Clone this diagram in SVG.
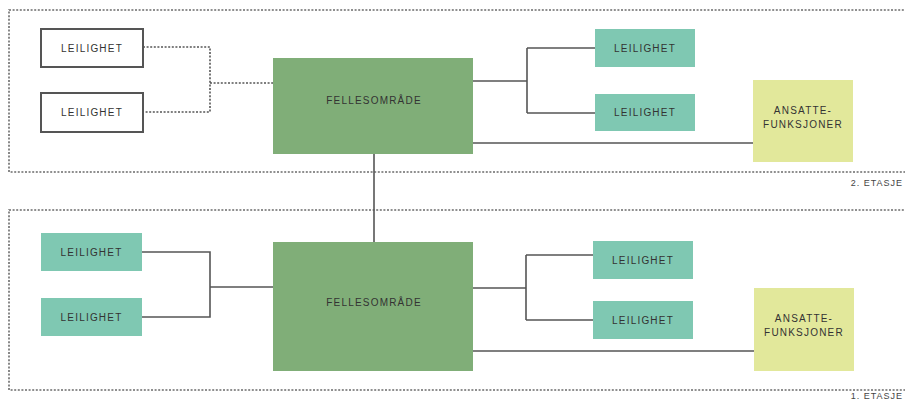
<svg xmlns="http://www.w3.org/2000/svg" width="905" height="400" viewBox="0 0 905 400">
  <style>
    .floor { fill: none; stroke: #6b6b6b; stroke-width: 1.6; stroke-dasharray: 2 1.6; }
    .outline { fill: #ffffff; stroke: #555555; stroke-width: 2; }
    .flat { fill: #7fc8b2; }
    .common { fill: #80ae78; }
    .staff { fill: #e2e89b; }
    .lbl { font-family: "Liberation Sans", Arial, sans-serif; font-size: 10px; fill: #333333; text-anchor: middle; letter-spacing: 1.2px; }
    .floorlbl { font-family: "Liberation Sans", Arial, sans-serif; font-size: 9px; fill: #444444; text-anchor: end; letter-spacing: 1px; }
    .link { fill: none; stroke: #555555; stroke-width: 1.6; }
    .dotted { fill: none; stroke: #555555; stroke-width: 1.6; stroke-dasharray: 2 1.6; }
  </style>

  <!-- floor frames -->
  <g id="floor-2">
    <rect class="floor" x="9" y="10" width="900" height="162"/>
    <text class="floorlbl" x="903" y="186">2. ETASJE</text>
  </g>
  <g id="floor-1">
    <rect class="floor" x="9" y="210" width="900" height="180"/>
    <text class="floorlbl" x="903" y="398.5">1. ETASJE</text>
  </g>

  <!-- connectors -->
  <g id="connectors">
    <!-- 2nd floor -->
    <path class="dotted" d="M143 47 H210 V112 H143 M210 83 H273"/>
    <path class="link" d="M473 81 H527 M527 48 V113 M527 48 H595 M527 113 H595"/>
    <path class="link" d="M473 143 H753"/>
    <!-- between floors -->
    <path class="link" d="M374 154 V242"/>
    <!-- 1st floor -->
    <path class="link" d="M142 252 H210 V317 H142 M210 287 H273"/>
    <path class="link" d="M473 288 H526 M526 255 V320 M526 255 H593 M526 320 H593"/>
    <path class="link" d="M473 351 H754"/>
  </g>

  <!-- 2nd floor nodes -->
  <g id="f2-flat-1">
    <rect class="outline" x="41" y="29" width="102" height="38"/>
    <text class="lbl" x="92" y="51.5">LEILIGHET</text>
  </g>
  <g id="f2-flat-2">
    <rect class="outline" x="41" y="93" width="102" height="39"/>
    <text class="lbl" x="92" y="116">LEILIGHET</text>
  </g>
  <g id="f2-common">
    <rect class="common" x="273" y="58" width="200" height="96"/>
    <text class="lbl" x="374" y="104">FELLESOMRÅDE</text>
  </g>
  <g id="f2-flat-3">
    <rect class="flat" x="595" y="29" width="100" height="38"/>
    <text class="lbl" x="645" y="51.5">LEILIGHET</text>
  </g>
  <g id="f2-flat-4">
    <rect class="flat" x="595" y="94" width="100" height="37"/>
    <text class="lbl" x="645" y="116">LEILIGHET</text>
  </g>
  <g id="f2-staff">
    <rect class="staff" x="753" y="80" width="100" height="82"/>
    <text class="lbl" x="803" y="114">ANSATTE-</text>
    <text class="lbl" x="803" y="127.5">FUNKSJONER</text>
  </g>

  <!-- 1st floor nodes -->
  <g id="f1-flat-1">
    <rect class="flat" x="41" y="233" width="101" height="38"/>
    <text class="lbl" x="91.5" y="255.5">LEILIGHET</text>
  </g>
  <g id="f1-flat-2">
    <rect class="flat" x="41" y="298" width="101" height="38"/>
    <text class="lbl" x="91.5" y="320.5">LEILIGHET</text>
  </g>
  <g id="f1-common">
    <rect class="common" x="273" y="242" width="200" height="129"/>
    <text class="lbl" x="374" y="305.5">FELLESOMRÅDE</text>
  </g>
  <g id="f1-flat-3">
    <rect class="flat" x="593" y="241" width="100" height="38"/>
    <text class="lbl" x="643" y="263.5">LEILIGHET</text>
  </g>
  <g id="f1-flat-4">
    <rect class="flat" x="593" y="301" width="100" height="38"/>
    <text class="lbl" x="643" y="323.5">LEILIGHET</text>
  </g>
  <g id="f1-staff">
    <rect class="staff" x="754" y="288" width="100" height="83"/>
    <text class="lbl" x="804" y="322">ANSATTE-</text>
    <text class="lbl" x="804" y="335.5">FUNKSJONER</text>
  </g>
</svg>
